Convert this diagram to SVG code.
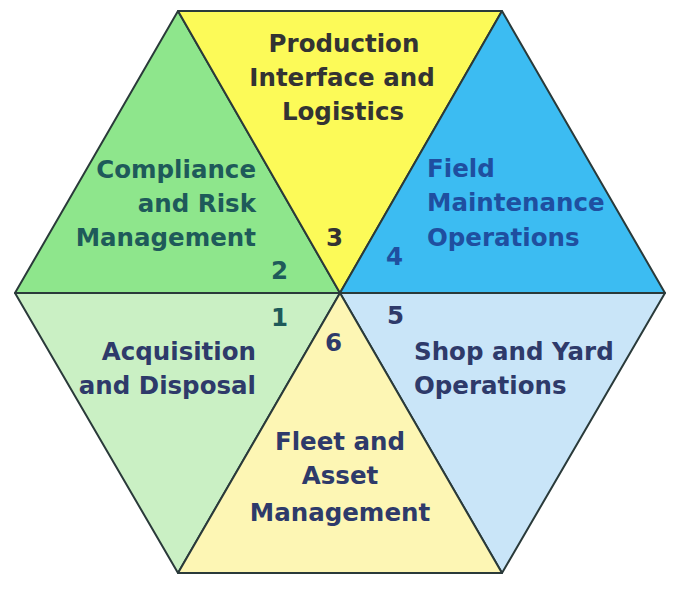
<svg xmlns="http://www.w3.org/2000/svg" width="679" height="590" viewBox="0 0 679 590">
<style>
.tri{stroke:#2a3a3a;stroke-width:2;stroke-linejoin:round}
text{font-family:"DejaVu Sans",Verdana,sans-serif;font-weight:bold;font-size:24.5px}
.g{fill:#1e5a5a}.y{fill:#333333}.b{fill:#1f4fa0}.n{fill:#2e3a6a}
</style>
<rect width="679" height="590" fill="#ffffff"/>
<g id="node-2">
<polygon class="tri" points="178,11 340,293 15,293" fill="#8ee68c"/>
<text class="g" text-anchor="end" x="256" y="178">Compliance</text>
<text class="g" text-anchor="end" x="256" y="212">and Risk</text>
<text class="g" text-anchor="end" x="256" y="246">Management</text>
<text class="g" x="271" y="279">2</text>
</g>
<g id="node-3">
<polygon class="tri" points="178,11 502,11 340,293" fill="#fcfa58"/>
<text class="y" text-anchor="middle" x="344" y="52">Production</text>
<text class="y" text-anchor="middle" x="342" y="86">Interface and</text>
<text class="y" text-anchor="middle" x="343" y="120">Logistics</text>
<text class="y" x="326" y="246">3</text>
</g>
<g id="node-4">
<polygon class="tri" points="502,11 665,293 340,293" fill="#3cbcf2"/>
<text class="b" x="427" y="177">Field</text>
<text class="b" x="427" y="211">Maintenance</text>
<text class="b" x="427" y="246">Operations</text>
<text class="b" x="386" y="265">4</text>
</g>
<g id="node-1">
<polygon class="tri" points="15,293 340,293 178,573" fill="#caf0c4"/>
<text class="g" x="271" y="326">1</text>
<text class="n" text-anchor="end" x="256" y="360">Acquisition</text>
<text class="n" text-anchor="end" x="256" y="394">and Disposal</text>
</g>
<g id="node-5">
<polygon class="tri" points="340,293 665,293 502,573" fill="#c9e5f8"/>
<text class="n" x="387" y="324">5</text>
<text class="n" x="414" y="360">Shop and Yard</text>
<text class="n" x="414" y="394">Operations</text>
</g>
<g id="node-6">
<polygon class="tri" points="340,293 502,573 178,573" fill="#fdf6b4"/>
<text class="n" x="325" y="351">6</text>
<text class="n" text-anchor="middle" x="340" y="450">Fleet and</text>
<text class="n" text-anchor="middle" x="340" y="484">Asset</text>
<text class="n" text-anchor="middle" x="340" y="521">Management</text>
</g>
<g id="connectors"></g>
</svg>
